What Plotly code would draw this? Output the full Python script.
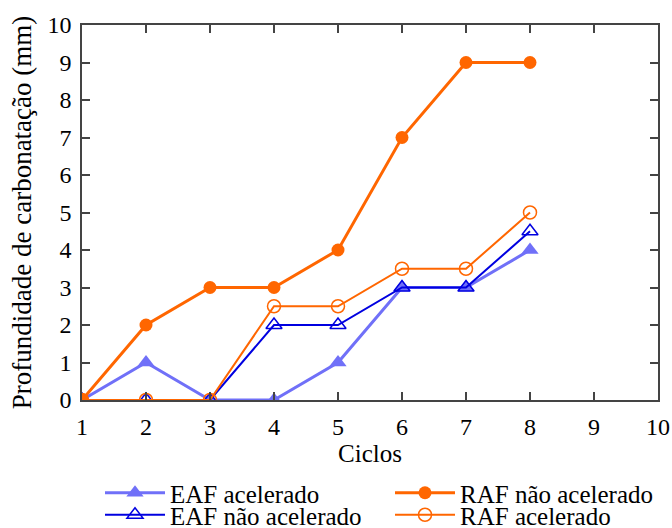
import plotly.graph_objects as go

ciclos = [1, 2, 3, 4, 5, 6, 7, 8]
eaf_acelerado = [0, 1, 0, 0, 1, 3, 3, 4]
eaf_nao_acelerado = [0, 0, 0, 2, 2, 3, 3, 4.5]
raf_nao_acelerado = [0, 2, 3, 3, 4, 7, 9, 9]
raf_acelerado = [0, 0, 0, 2.5, 2.5, 3.5, 3.5, 5]

FONT = "Liberation Serif"
LIGHT = "#7070f8"
BLUE = "#0000e0"
ORANGE = "#ff6600"

fig = go.Figure()
fig.add_trace(go.Scatter(x=ciclos, y=eaf_acelerado, name="EAF acelerado", mode="lines+markers",
                         line=dict(color=LIGHT, width=3), showlegend=True,
                         marker=dict(symbol="triangle-up", size=15, color=LIGHT), legend="legend"))
fig.add_trace(go.Scatter(x=ciclos, y=eaf_nao_acelerado, name="EAF não acelerado", mode="lines+markers",
                         line=dict(color=BLUE, width=2), showlegend=True,
                         marker=dict(symbol="triangle-up-open", size=14, color=BLUE, line=dict(width=1.5)), legend="legend2"))
fig.add_trace(go.Scatter(x=ciclos, y=raf_nao_acelerado, name="RAF não acelerado", mode="lines+markers",
                         line=dict(color=ORANGE, width=3), showlegend=True,
                         marker=dict(symbol="circle", size=13, color=ORANGE), legend="legend3"))
fig.add_trace(go.Scatter(x=ciclos, y=raf_acelerado, name="RAF acelerado", mode="lines+markers",
                         line=dict(color=ORANGE, width=2), showlegend=True,
                         marker=dict(symbol="circle-open", size=13, color=ORANGE, line=dict(width=1.5)), legend="legend4"))

axis_common = dict(showline=True, linecolor="#444444", linewidth=1.5, mirror="allticks",
                   ticks="inside", ticklen=8, tickcolor="#444444", tickwidth=1.5,
                   showgrid=False, zeroline=False, dtick=1,
                   tickfont=dict(family=FONT, size=24, color="black"))

ML, MR, MT, MB = 82, 14, 25, 128
PW = 672 - ML - MR
PH = 528 - MT - MB


def leg(px, py):
    return dict(x=(px - ML) / PW, y=(528 - MB - py) / PH, xanchor="left", yanchor="middle",
                bgcolor="rgba(0,0,0,0)", font=dict(family=FONT, size=25, color="black"),
                itemwidth=60)


fig.update_layout(
    width=672, height=528,
    showlegend=True,
    margin=dict(l=ML, r=MR, t=MT, b=MB, autoexpand=False),
    paper_bgcolor="white", plot_bgcolor="white",
    font=dict(family=FONT, size=25, color="black"),
    xaxis=dict(range=[1, 10], ticklabelstandoff=4, automargin=False,
               title=dict(text="Ciclos", font=dict(family=FONT, size=25), standoff=4), **axis_common),
    yaxis=dict(range=[0, 10], ticklabelstandoff=4, automargin=False,
               title=dict(text="Profundidade de carbonatação (mm)", font=dict(family=FONT, size=27), standoff=8),
               **axis_common),
    legend=leg(100, 493),
    legend2=leg(100, 515),
    legend3=leg(390, 493),
    legend4=leg(390, 515),
)

fig.write_html("out.html")
